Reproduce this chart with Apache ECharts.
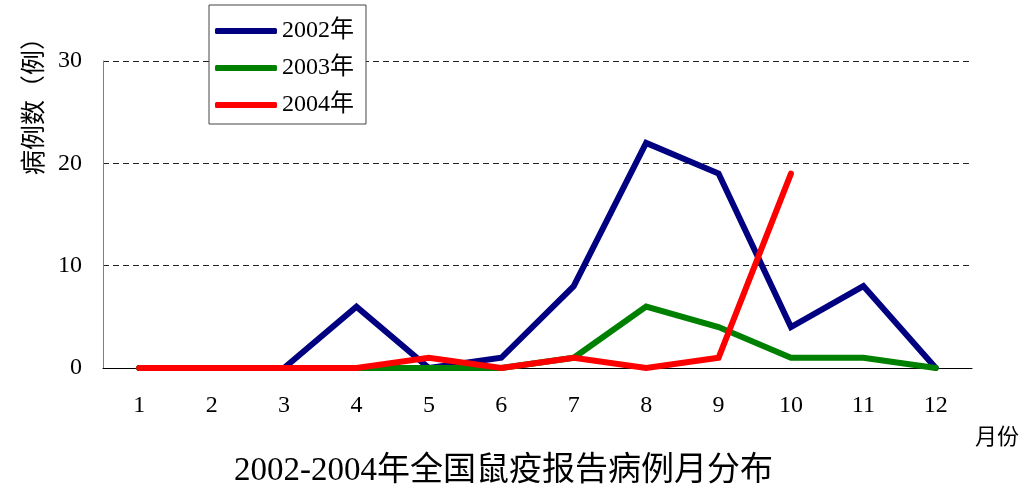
<!DOCTYPE html>
<html>
<head>
<meta charset="utf-8">
<script src="https://cdn.jsdelivr.net/npm/echarts@6/dist/echarts.min.js"></script>
<style>
  html, body { margin: 0; padding: 0; background: #fff; }
  #chart { width: 1031px; height: 495px; }
</style>
</head>
<body>
<div id="chart"></div>
<script>
// 月份
const months = ['1', '2', '3', '4', '5', '6', '7', '8', '9', '10', '11', '12'];
// 各年病例数
const cases2002 = [0, 0, 0, 6, 0, 1, 8, 22, 19, 4, 8, 0];
const cases2003 = [0, 0, 0, 0, 0, 0, 1, 6, 4, 1, 1, 0];
const cases2004 = [0, 0, 0, 0, 1, 0, 1, 0, 1, 19];
const seriesNames = ['2002年', '2003年', '2004年'];

const FONT = '"Liberation Serif", "Noto Sans CJK SC", serif';

const chart = echarts.init(document.getElementById('chart'));

const makeLine = (name, data, color) => ({
  name: name,
  type: 'line',
  data: data,
  symbol: 'none',
  silent: true,
  lineStyle: { color: color, width: 6, cap: 'round', join: 'miter' },
  itemStyle: { color: color }
});

const option = {
  animation: false,
  backgroundColor: '#fff',
  textStyle: { fontFamily: FONT, color: '#000' },
  title: {
    text: '2002-2004年全国鼠疫报告病例月分布',
    left: 234,
    top: 455,
    padding: 0,
    textStyle: { fontFamily: FONT, fontSize: 33, fontWeight: 'normal', color: '#000' }
  },
  legend: {
    orient: 'vertical',
    left: 209,
    top: 5,
    data: seriesNames,
    icon: 'roundRect',
    itemWidth: 62,
    itemHeight: 6,
    itemGap: 13,
    itemTextGap: 3,
    padding: [14, 12, 7, 6],
    borderColor: '#444',
    borderWidth: 1,
    borderRadius: 0,
    backgroundColor: '#fff',
    textStyle: { fontFamily: FONT, fontSize: 24, lineHeight: 24, color: '#000' },
    z: 10
  },
  grid: { left: 103, right: 59, top: 61, bottom: 127 },
  xAxis: {
    type: 'category',
    data: months,
    boundaryGap: true,
    axisLine: { lineStyle: { color: '#000', width: 1 } },
    axisTick: { show: false },
    axisLabel: { fontFamily: FONT, fontSize: 24, color: '#000', margin: 26, interval: 0 }
  },
  yAxis: {
    type: 'value',
    min: 0,
    max: 30,
    interval: 10,
    axisLine: { show: true, lineStyle: { color: '#808080', width: 1 } },
    axisTick: { show: false },
    axisLabel: { fontFamily: FONT, fontSize: 24, color: '#000', margin: 21 },
    splitLine: { show: true, lineStyle: { color: '#222', width: 1, type: [6, 4] } }
  },
  graphic: [
    {
      type: 'text',
      x: 32,
      y: 100,
      rotation: Math.PI / 2,
      style: {
        text: '病例数（例）',
        font: '25px "Noto Sans CJK SC"',
        fill: '#000',
        align: 'center',
        verticalAlign: 'middle'
      }
    },
    {
      type: 'text',
      x: 997,
      y: 436,
      style: {
        text: '月份',
        font: '22px "Noto Sans CJK SC"',
        fill: '#000',
        align: 'center',
        verticalAlign: 'middle'
      }
    }
  ],
  series: [
    makeLine(seriesNames[0], cases2002, '#000080'),
    makeLine(seriesNames[1], cases2003, '#008000'),
    makeLine(seriesNames[2], cases2004, '#ff0000')
  ]
};

chart.setOption(option);
</script>
</body>
</html>
